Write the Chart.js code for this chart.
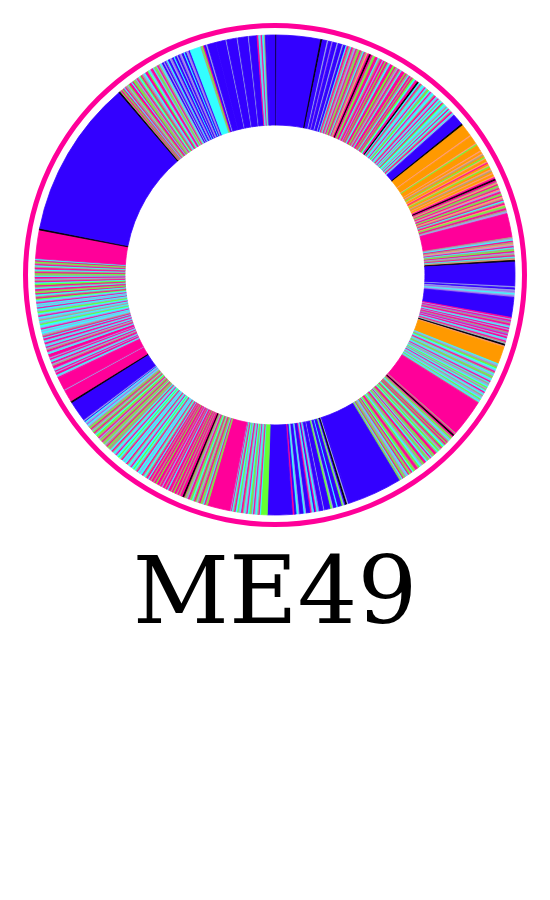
<!DOCTYPE html>
<html><head><meta charset="utf-8">
<script src="https://cdn.jsdelivr.net/npm/chart.js@4"></script>
<style>
html,body{margin:0;padding:0;background:#fff;width:550px;height:900px;overflow:hidden}
#wrap{position:absolute;left:0;top:0;width:550px;height:550px}
#title{position:absolute;left:0;width:550px;top:544px;text-align:center;font-family:"DejaVu Serif",serif;font-size:94px;line-height:94px;color:#000}
</style></head><body>
<div id="wrap"><canvas id="c"></canvas></div>
<div id="title">ME49</div>
<script>
// Segment kinds, clockwise from 12 o'clock; sizes in tenths of a degree
const part1Kinds = "K" + "B" + "K" + "BLBVBLBLBC" + "PTCPTLPTGPTCPTSP" + "K" +
  "PTGPPCTPLP" + "GPTCPPGPTL" + "PTCPPGPTCP" + "TPG" + "CPP" + "K" +
  "CPTCLPCTGC" + "PLCTPCLPCT" + "CPGCLTCPC" + "TPCL" + "B" + "K" + "OSOSGO" +
  "SOSTOGSOSP" + "OSGOSTOSOS" + "P" + "K" + "PTSPGTPSLP" + "TGPSTPCTPS" + "GTPT" + "L" +
  "P" + "TLCPTSLPCTGPLTPCTS" + "K" + "B";
const part1Sizes = "4 106 4 " +
  "12 3 8 3 10 3 10 3 6 3 " +
  "4 4 3 4 3 4 3 4 3 4 4 3 3 4 3 4 " + "4 " +
  "4 3 4 3 4 3 4 5 3 4 3 4 3 4 3 4 5 3 4 3 4 3 3 4 4 3 3 4 3 4 3 3 4 4 3 3 " + "4 " +
  "4 3 3 5 3 3 4 3 3 4 3 3 5 3 4 3 3 3 4 3 4 3 3 5 3 3 4 3 4 3 4 3 3 " +
  "28 4 " + "30 3 20 3 3 15 " +
  "3 5 3 3 4 3 3 6 3 3 4 3 3 5 3 3 4 3 5 3 4 " + "4 " +
  "4 3 3 3 3 4 3 3 3 4 3 3 3 4 3 3 3 3 4 3 3 3 4 3 5 " +
  "58 " + "3 3 3 3 4 3 3 3 3 3 3 3 3 4 3 3 3 2 " + "4 59";

const part2Kinds = "LBLVLCLV" + "B" + "PLPVTPLCPLPTVPLPCLPTL" + "K" + "SO" +
  "CLTGCLPTCLGTCLPCTLCGLTCPLCTLCGLCT" + "P" +
  "TPKPTGLCTP" + "GPTCGPTLGC" + "TPPGTCPLGT" + "CPPGTLCGTP" + "PTGCPTGPCL" + "TGPCT" + "G" +
  "B" + "BLKBLGBCBL" + "GBLBVCPBCL" + "PBLCBLCB" + "P" + "B";
const part2Sizes = "3 5 3 3 3 3 3 3 " + "48 " +
  "4 3 3 3 3 4 3 3 3 3 4 3 3 3 3 4 3 3 3 3 2 " + "4 " + "3 42 " +
  "3 4 3 3 4 3 3 3 3 4 3 3 4 3 3 3 3 4 3 3 3 3 4 3 3 3 3 4 3 3 3 3 2 " + "90 " +
  "3 3 4 3 3 3 3 3 4 3 3 3 3 4 3 3 3 3 4 3 3 3 3 3 4 3 3 3 3 3 " +
  "4 3 3 3 3 3 4 3 3 3 3 3 4 3 3 3 3 3 3 4 3 3 3 3 3 2 " +
  "130 " + "5 3 4 3 3 3 10 3 8 3 4 15 2 10 3 4 3 3 3 3 3 10 3 3 10 3 4 5 4 " + "60";

const part3Kinds = "G" + "CPTCLPCTGCPLCTPCLGCPTCPL" + "P" + "GTPCTGPTLGPTCGTPLTGP" + "K" +
  "PTPTPGPTPC" + "PTPLPTPGPT" + "PTPC" + "PT" +
  "CTPCLCPTCG" + "CPLCTPCLCP" + "TCGCPLCT" + "PCT" +
  "TGPTLGTPGT" + "LPTGCTPGLT" + "P" + "GT" +
  "LCVLCBL" +
  "B" + "K" + "PLP" +
  "PLCPLPCLPT" + "LPCLPLPCLP" + "TLPCLPC" + "LPCPTL" +
  "CLCPLCGLCT" + "LCPLCGLCPC" + "LC" + "PLCG" +
  "PTCPGTPCTP" + "GCPTLPCTGP" + "TCPTCPT" + "GPC" +
  "P" + "K";
const part3Sizes = "16 " + "3 3 3 4 3 3 3 3 3 4 3 3 3 3 4 3 3 3 4 3 3 3 2 2 " + "55 " +
  "3 3 3 3 3 3 4 3 3 3 3 3 3 3 3 4 3 3 2 2 " + "4 " +
  "6 3 4 3 5 3 4 3 6 3 " + "4 3 5 3 4 3 6 3 4 3 " + "5 3 4 3 " + "4 3 " +
  "4 3 3 5 3 4 3 3 4 3 " + "5 3 3 4 3 3 5 3 4 3 " + "3 4 3 5 3 3 4 3 " + "3 4 4 " +
  "3 3 3 3 3 3 4 3 3 3 " + "3 3 3 4 3 3 3 3 3 3 " + "3 " + "3 3 " +
  "3 3 3 3 3 2 3 " +
  "50 " + "4 " + "30 2 30 " +
  "4 3 3 5 3 3 3 3 6 3 " + "3 4 3 3 3 3 8 3 3 4 " + "3 3 3 3 3 4 3 " + "3 4 3 3 3 3 " +
  "4 3 3 3 3 5 3 3 4 3 " + "3 4 3 3 3 4 3 4 3 3 " + "3 3 " + "3 3 3 3 " +
  "3 3 4 3 3 3 4 3 3 3 " + "4 3 3 3 3 4 3 3 3 3 " + "3 3 4 3 3 3 3 " + "3 3 3 " +
  "69 " + "4";

const part4Kinds = "B" + "K" + "TPGPCPTLGP" + "PCPGTLPTCG" + "PTLCPPGCLP" + "PCTGLPTCL" +
  "BLBVCBLVBC" + "BLBVLBCBLV" + "B" + "C" + "TGPBL" + "B" + "BLBLBLB" + "PCLPCTB" + "B";
const part4Sizes = "382 " + "4 " +
  "3 3 3 3 3 3 4 3 3 3 3 3 3 4 3 3 3 3 3 3 3 3 3 4 3 3 3 3 3 3 3 3 3 3 3 3 4 3 3 " +
  "4 3 3 3 3 5 3 3 4 3 5 3 4 3 3 5 3 4 3 3 3 " +
  "27 " + "3 3 3 5 3 " + "20 " + "25 2 25 2 25 2 19 " + "4 3 3 3 4 3 4 " + "19";

const kindColors = {
  B: '#3300ff', P: '#ff0099', O: '#ff9900', C: '#33ffff', G: '#66ff33',
  L: '#99a6e6', V: '#9966ee', T: '#aaa27f', S: '#ff9977', K: '#000000'
};
const ringColor = '#ff0099';
const title = 'ME49';

const kinds = [], sizes = [];
[[part1Kinds, part1Sizes], [part2Kinds, part2Sizes], [part3Kinds, part3Sizes], [part4Kinds, part4Sizes]].forEach(([k, s]) => {
  const ks = k.split('');
  const ss = s.trim().split(/\s+/).map(Number);
  if (ks.length !== ss.length) console.warn('mismatch', ks.length, ss.length);
  const n = Math.min(ks.length, ss.length);
  for (let i = 0; i < n; i++) { kinds.push(ks[i]); sizes.push(ss[i]); }
});
const colors = kinds.map(k => kindColors[k]);

document.getElementById('title').textContent = title;

new Chart(document.getElementById('c'), {
  type: 'doughnut',
  data: {
    labels: kinds,
    datasets: [
      { data: [1], backgroundColor: [ringColor], borderWidth: 0, weight: 5 },
      { data: [1], backgroundColor: ['rgba(0,0,0,0)'], borderWidth: 0, weight: 7 },
      { data: sizes, backgroundColor: colors, borderColor: colors, borderWidth: 0.8, weight: 90 }
    ]
  },
  options: {
    responsive: true,
    maintainAspectRatio: false,
    animation: false,
    cutout: '59.5%',
    layout: { padding: 23 },
    events: [],
    plugins: { legend: { display: false }, tooltip: { enabled: false }, title: { display: false } }
  }
});
</script>
</body></html>
